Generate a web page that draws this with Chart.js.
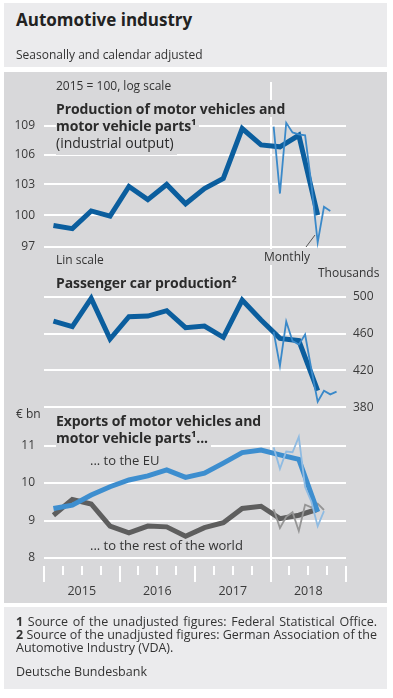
<!DOCTYPE html>
<html>
<head>
<meta charset="utf-8">
<script src="https://cdn.jsdelivr.net/npm/chart.js@4.4.0/dist/chart.umd.min.js"></script>
<style>
  body { margin: 0; background: #fff; font-family: "Open Sans", "DejaVu Sans", sans-serif; color: #333; }
  #wrap { position: relative; width: 393px; height: 698px; overflow: hidden; }
  .box { position: absolute; left: 4px; width: 383px; }
  #head { top: 3px; height: 64px; background: #ebebed; }
  #plot { top: 72px; height: 531px; background: #d8d8da; }
  #foot { top: 607px; height: 82px; background: #ebebed; }
  canvas { position: absolute; left: 0; }
  .t { position: absolute; white-space: nowrap; }
  .s12 { font-size: 12px; line-height: 16px; }
  .s13 { font-size: 13px; line-height: 16px; }
  .h { font-size: 14px; line-height: 17px; font-weight: 700; color: #2b2b2b; letter-spacing: -0.1px; }
  .mask { background: #d8d8da; padding-right: 3px; }
  .fn { position: absolute; left: 16px; width: 361px; font-size: 12.5px; line-height: 13.3px; color: #333; }
  .fn.j { text-align: justify; text-align-last: justify; }
  .fn b { font-weight: 700; }
</style>
</head>
<body>
<div id="wrap">
  <div class="box" id="head"></div>
  <div class="box" id="plot"></div>
  <div class="box" id="foot"></div>

  <canvas id="c1" width="393" height="200" style="top:72px"></canvas>
  <canvas id="c2" width="393" height="170" style="top:262px"></canvas>
  <canvas id="c3" width="393" height="183" style="top:420px"></canvas>

  <div class="t" style="left:16px;top:9px;font-size:17px;line-height:21px;font-weight:700;color:#222">Automotive industry</div>
  <div class="t s12" style="left:16px;top:47px">Seasonally and calendar adjusted</div>

  <div class="t s12" style="left:56px;top:78px">2015 = 100, log scale</div>
  <div class="t h mask" style="left:56px;top:100px">Production of motor vehicles and</div>
  <div class="t h mask" style="left:56px;top:117px">motor vehicle parts¹</div>
  <div class="t h mask" style="left:56px;top:134px;font-weight:400;letter-spacing:0;padding-bottom:4px">(industrial output)</div>
  <div class="t s12" style="left:56px;top:252px">Lin scale</div>
  <div class="t s12 mask" style="left:262px;top:249px;padding:0 2px">Monthly</div>
  <div class="t s12" style="left:318px;top:265px">Thousands</div>
  <div class="t h" style="left:56px;top:274px">Passenger car production²</div>

  <div class="t s12" style="left:16px;top:406px">€ bn</div>
  <div class="t h mask" style="left:56px;top:412px">Exports of motor vehicles and</div>
  <div class="t h mask" style="left:56px;top:429px;padding-bottom:2px">motor vehicle parts¹...</div>
  <div class="t s13" style="left:90px;top:452px">... to the EU</div>
  <div class="t s13" style="left:90px;top:537px">... to the rest of the world</div>

  <div class="fn j" style="top:615px"><b>1</b> Source of the unadjusted figures: Federal Statistical Office.</div>
  <div class="fn j" style="top:628px"><b>2</b> Source of the unadjusted figures: German Association of the</div>
  <div class="fn" style="top:641px">Automotive Industry (VDA).</div>
  <div class="fn" style="top:665px">Deutsche Bundesbank</div>
</div>

<script>
// quarterly series run 2015 Q1 .. 2018 Q3, monthly series start Jan 2018
const quarters = ['2015 Q1', '2015 Q2', '2015 Q3', '2015 Q4', '2016 Q1', '2016 Q2', '2016 Q3', '2016 Q4',
                  '2017 Q1', '2017 Q2', '2017 Q3', '2017 Q4', '2018 Q1', '2018 Q2', '2018 Q3'];
const months2018 = ['Jan', 'Feb', 'Mar', 'Apr', 'May', 'Jun', 'Jul', 'Aug', 'Sep', 'Oct', 'Nov'];
const years = ['2015', '2016', '2017', '2018'];

// production of motor vehicles and parts, 2015 = 100
const productionQ = [99.0, 98.7, 100.4, 99.9, 102.8, 101.5, 103.0, 101.1, 102.6, 103.6, 108.7, 107.0, 106.8, 108.0, 100.0];
const productionM = [108.9, 102.1, 109.3, 108.3, 108.1, 108.0, 103.0, 97.4, 100.8, 100.4];
const productionTicks = [97, 100, 103, 106, 109];

// passenger car production, thousands
const carsQ = [473.6, 467.5, 498.2, 454.1, 478.3, 479.0, 484.8, 466.4, 468.2, 455.9, 496.4, 474.7, 454.8, 452.3, 398.1];
const carsM = [462, 425, 473, 452, 448, 459, 421, 386, 398, 394, 397];
const carsTicks = [380, 420, 460, 500];

// exports, EUR bn
const exportsEuQ = [9.32, 9.41, 9.68, 9.90, 10.08, 10.19, 10.35, 10.15, 10.26, 10.53, 10.81, 10.88, 10.75, 10.63, 9.23];
const exportsEuM = [10.95, 10.38, 10.84, 10.82, 11.23, 9.89, 9.5, 8.85, 9.25];
const exportsRowQ = [9.14, 9.56, 9.44, 8.85, 8.67, 8.85, 8.83, 8.58, 8.81, 8.94, 9.32, 9.38, 9.05, 9.14, 9.30];
const exportsRowM = [9.3, 8.8, 9.1, 9.22, 8.72, 9.42, 9.35, 9.45, 9.28];
const exportsTicks = [8, 9, 10, 11];

Chart.defaults.font.family = '"Open Sans", "DejaVu Sans", sans-serif';
Chart.defaults.color = '#3a3a3a';
Chart.defaults.animation = false;

// x runs in months from Jan 2015
const qx = i => i * 3 + 1.5;
const mx = i => 36 + i + 0.5;
const qPts = arr => arr.map((y, i) => ({ x: qx(i), y }));
const mPts = arr => arr.map((y, i) => ({ x: mx(i), y }));

const marks = {
    id: 'marks',
    beforeDatasetsDraw(chart, args, o) {
        const ctx = chart.ctx, x = chart.scales.x;
        ctx.save();
        ctx.strokeStyle = '#fff';
        ctx.lineWidth = 2;
        const px = Math.round(x.getPixelForValue(36));
        ctx.beginPath(); ctx.moveTo(px, o.from); ctx.lineTo(px, o.to); ctx.stroke();
        if (o.ticks) {
            const top = chart.chartArea.bottom + 8;
            for (let k = 0; k <= 16; k++) {
                const t = Math.round(x.getPixelForValue(k * 3));
                ctx.beginPath(); ctx.moveTo(t, top); ctx.lineTo(t, top + (k % 4 ? 9 : 16)); ctx.stroke();
            }
        }
        ctx.restore();
    },
    afterDatasetsDraw(chart, args, o) {
        if (!o.leader) return;
        const ctx = chart.ctx, l = o.leader;
        ctx.save();
        ctx.strokeStyle = '#555';
        ctx.lineWidth = 1;
        ctx.beginPath(); ctx.moveTo(l[0], l[1]); ctx.lineTo(l[2], l[3]); ctx.stroke();
        ctx.restore();
    }
};

function yScale(type, ticks, pos, width) {
    return {
        type: type,
        position: pos,
        min: ticks[0],
        max: ticks[ticks.length - 1],
        afterBuildTicks: s => { s.ticks = ticks.map(v => ({ value: v })); },
        afterFit: s => { s.width = width; },
        grid: { color: '#fff', lineWidth: 2, drawTicks: false },
        border: { display: false },
        ticks: { padding: pos === 'left' ? 9 : 7, font: { size: 12 }, color: '#3a3a3a', callback: v => String(v) }
    };
}

function xScale(show) {
    return {
        type: 'linear',
        min: 0,
        max: 48,
        display: show,
        afterBuildTicks: s => { s.ticks = years.map((y, i) => ({ value: 6 + i * 12 })); },
        afterFit: s => { s.height = show ? 45 : 0; },
        grid: { display: false },
        border: { display: false },
        ticks: { padding: 18, font: { size: 12.5 }, color: '#3a3a3a', maxRotation: 0, autoSkip: false,
                 callback: v => years[(v - 6) / 12] }
    };
}

const thick = (label, data, color) => ({ label, data, borderColor: color, borderWidth: 5, pointRadius: 0, tension: 0, clip: false });
const thin = (label, data, color) => ({ label, data, borderColor: color, borderWidth: 1.8, pointRadius: 0, tension: 0, clip: false });

function makeChart(id, datasets, y, x, padding, marksOpts) {
    return new Chart(document.getElementById(id), {
        type: 'line',
        data: { datasets },
        options: {
            responsive: false,
            devicePixelRatio: 1,
            layout: { padding },
            plugins: { legend: { display: false }, tooltip: { enabled: false }, marks: marksOpts },
            scales: { x, y }
        },
        plugins: [marks]
    });
}

makeChart('c1', [
    thin('Monthly', mPts(productionM), '#3a89c9'),
    thick('Quarterly', qPts(productionQ), '#0b5e9e')
], yScale('logarithmic', productionTicks, 'left', 44), xScale(false),
   { top: 53.7, bottom: 25.3, left: 0, right: 47 },
   { from: 10, to: 200, leader: [306, 175, 315, 163] });

makeChart('c2', [
    thin('Monthly', mPts(carsM), '#3a89c9'),
    thick('Quarterly', qPts(carsQ), '#0b5e9e')
], yScale('linear', carsTicks, 'right', 47), xScale(false),
   { top: 34.7, bottom: 24.7, left: 44, right: 0 },
   { from: 0, to: 170 });

makeChart('c3', [
    thin('EU monthly', mPts(exportsEuM), '#8fbbe2'),
    thick('... to the EU', qPts(exportsEuQ), '#3d8ecf'),
    thin('Rest of world monthly', mPts(exportsRowM), '#959595'),
    thick('... to the rest of the world', qPts(exportsRowQ), '#5e5e5e')
], yScale('linear', exportsTicks, 'left', 44), xScale(true),
   { top: 25.5, bottom: 0, left: 0, right: 47 },
   { from: 0, to: 162, ticks: true });
</script>
</body>
</html>
